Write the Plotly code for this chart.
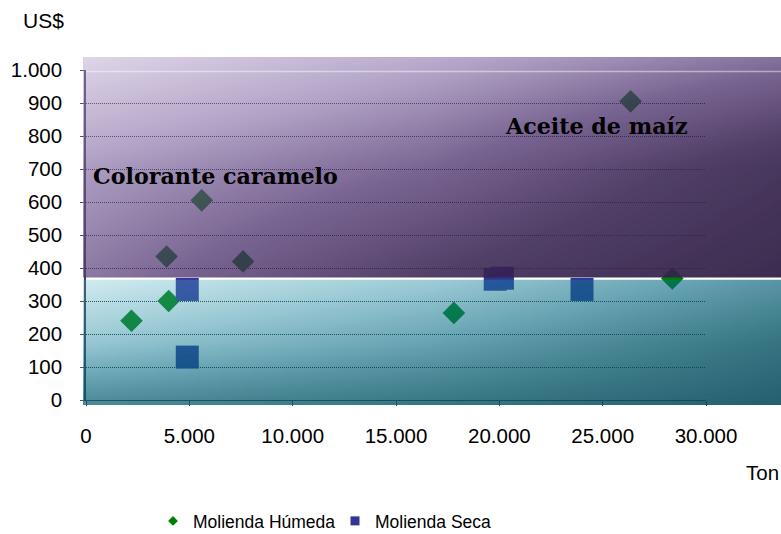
import plotly.graph_objects as go

# ---------------- data ----------------
series_names = ["Molienda Húmeda", "Molienda Seca"]
humeda_x = [2200, 3900, 4000, 5600, 7600, 17800, 26350, 28370]
humeda_y = [240, 435, 300, 605, 420, 264, 905, 368]
seca_x = [4900, 4900, 19800, 20150, 24000]
seca_y = [335, 130, 366, 369, 335]

x_ticks = [0, 5000, 10000, 15000, 20000, 25000, 30000]
x_tick_labels = ["0", "5.000", "10.000", "15.000", "20.000", "25.000", "30.000"]
y_ticks = [0, 100, 200, 300, 400, 500, 600, 700, 800, 900, 1000]
y_tick_labels = ["0", "100", "200", "300", "400", "500", "600", "700", "800", "900", "1.000"]
region_labels = ["Colorante caramelo", "Aceite de maíz"]
axis_titles = ["US$", "Ton"]

# ---------------- geometry helpers (pixel -> paper) ----------------
W, H = 781, 534
PL, PR, PT, PB = 83, 781, 57, 405


def fx(px):
    return (px - PL) / (PR - PL)


def fy(py):
    return (PB - py) / (PB - PT)


def overlay_scale(anchors, n=17):
    """anchors: list of (z, seen_rgb_over_white, alpha) -> rgba colorscale"""
    stops = []
    for i in range(n):
        z = i / (n - 1)
        for (z0, s0, a0), (z1, s1, a1) in zip(anchors[:-1], anchors[1:]):
            if z0 <= z <= z1:
                t = (z - z0) / (z1 - z0) if z1 > z0 else 0
                s = [s0[k] + (s1[k] - s0[k]) * t for k in range(3)]
                a = a0 + (a1 - a0) * t
                break
        c = [max(0, min(255, round((s[k] - (1 - a) * 255) / a))) for k in range(3)]
        stops.append([z, f"rgba({c[0]},{c[1]},{c[2]},{a:.3f})"])
    return stops


purple_scale = overlay_scale([
    (0.00, (222, 213, 232), 0.45),
    (0.25, (180, 165, 200), 0.60),
    (0.50, (120, 100, 145), 0.74),
    (0.75, (80, 62, 102), 0.88),
    (1.00, (60, 44, 80), 0.95),
])
teal_scale = overlay_scale([
    (0.00, (208, 234, 240), 0.30),
    (0.25, (155, 202, 213), 0.45),
    (0.50, (105, 165, 180), 0.60),
    (0.75, (65, 128, 142), 0.76),
    (1.00, (36, 95, 110), 0.88),
])
# gradient levels on a 3x3 grid (rows bottom -> top, columns left -> right)
purple_levels = [[0.42, 0.75, 1.00], [0.28, 0.50, 0.85], [0.00, 0.22, 0.45]]
teal_levels = [[0.70, 0.84, 1.00], [0.27, 0.52, 0.85], [0.00, 0.24, 0.60]]
grid3 = [0, 0.5, 1]

GREEN = "#008000"
BLUE = "#333399"
FONT = "Liberation Sans"

fig = go.Figure()

# data markers (drawn underneath the translucent panels)
fig.add_trace(go.Scatter(
    x=humeda_x, y=humeda_y, mode="markers", name=series_names[0],
    marker=dict(symbol="diamond", size=17.4, color=GREEN, line=dict(width=0)),
    showlegend=False, legendgroup="h", hoverinfo="skip"))
fig.add_trace(go.Scatter(
    x=seca_x, y=seca_y, mode="markers", name=series_names[1],
    marker=dict(symbol="square", size=23, color=BLUE, line=dict(width=0)),
    showlegend=False, legendgroup="s", hoverinfo="skip"))

# legend entries (small symbols as in the reference)
fig.add_trace(go.Scatter(
    x=[None], y=[None], mode="markers", name=series_names[0], legendgroup="h",
    marker=dict(symbol="diamond", size=7.5, color=GREEN, line=dict(width=0))))
fig.add_trace(go.Scatter(
    x=[None], y=[None], mode="markers", name=series_names[1], legendgroup="s",
    marker=dict(symbol="square", size=9, color=BLUE, line=dict(width=0))))

# translucent gradient panels
fig.add_trace(go.Heatmap(
    x=grid3, y=grid3, z=purple_levels, zmin=0, zmax=1,
    zsmooth="best", colorscale=purple_scale, showscale=False,
    hoverinfo="skip", xaxis="x2", yaxis="y2"))
fig.add_trace(go.Heatmap(
    x=grid3, y=grid3, z=teal_levels, zmin=0, zmax=1,
    zsmooth="best", colorscale=teal_scale, showscale=False,
    hoverinfo="skip", xaxis="x2", yaxis="y3"))

tickfont = dict(family=FONT, size=20.5, color="#000000")

fig.update_layout(
    width=W, height=H,
    margin=dict(l=PL, r=W - PR, t=PT, b=H - PB, pad=0, autoexpand=False),
    paper_bgcolor="#ffffff", plot_bgcolor="rgba(0,0,0,0)",
    font=dict(family=FONT, color="#000000"),
    xaxis=dict(
        domain=[fx(86), fx(706)], range=[0, 30000], anchor="y",
        tickmode="array", tickvals=x_ticks, ticktext=x_tick_labels,
        tickfont=tickfont, ticks="outside", ticklen=5, tickcolor="#3a4a50",
        showline=True, linecolor="#3a4a50", linewidth=1,
        showgrid=False, zeroline=False, ticklabelstandoff=12, automargin=False),
    yaxis=dict(
        domain=[fy(400), fy(70)], range=[0, 1000], anchor="x",
        tickmode="array", tickvals=y_ticks, ticktext=y_tick_labels,
        tickfont=tickfont, ticks="outside", ticklen=4, tickcolor="#555555",
        showline=True, linecolor="#3a3a4a", linewidth=1.5,
        showgrid=True, gridcolor="#2a2a2a", gridwidth=1, griddash="1px,1px",
        zeroline=False, ticklabelstandoff=14, automargin=False),
    xaxis2=dict(domain=[0, 1], range=[0, 1], anchor="y2", visible=False),
    yaxis2=dict(domain=[fy(277.5), 1], range=[0, 1], anchor="x2", visible=False),
    yaxis3=dict(domain=[0, fy(279.5)], range=[0, 1], anchor="x2", visible=False),
    legend=dict(orientation="h", x=fx(153), xanchor="left", y=fy(521),
                yanchor="middle", font=dict(family=FONT, size=17.5, color="#000000"),
                bgcolor="rgba(0,0,0,0)", entrywidth=137),
    hovermode=False,
    shapes=[
        dict(type="line", xref="paper", yref="paper", x0=fx(86), x1=1,
             y0=fy(71.5), y1=fy(71.5), layer="above",
             line=dict(color="rgba(255,255,255,0.45)", width=1.5)),
    ],
    annotations=[
        dict(text=axis_titles[0], xref="paper", yref="paper", x=fx(21), y=fy(20),
             xanchor="left", yanchor="middle", showarrow=False,
             font=dict(family=FONT, size=21, color="#000000")),
        dict(text=axis_titles[1], xref="paper", yref="paper", x=fx(781), y=fy(472),
             xanchor="right", yanchor="middle", showarrow=False,
             font=dict(family=FONT, size=20.5, color="#000000")),
        dict(text=region_labels[0], xref="x", yref="y", x=230, y=680,
             xanchor="left", yanchor="middle", showarrow=False,
             font=dict(family="DejaVu Serif", size=22.2, color="#000000", weight="bold")),
        dict(text=region_labels[1], xref="x", yref="y", x=20200, y=830,
             xanchor="left", yanchor="middle", showarrow=False,
             font=dict(family="DejaVu Serif", size=22.2, color="#000000", weight="bold")),
    ],
)

fig.write_html("out.html")
